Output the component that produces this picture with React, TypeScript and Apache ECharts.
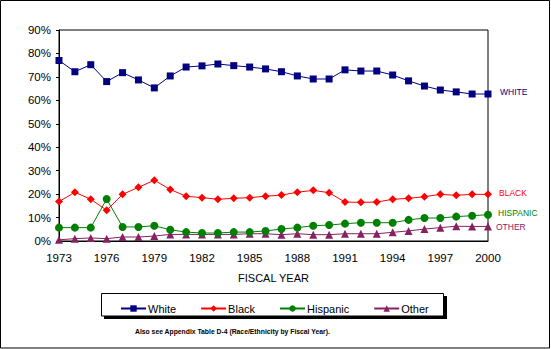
import React, { useEffect, useRef } from "react";
import * as echarts from "echarts";

const years = [
  "1973", "1974", "1975", "1976", "1977", "1978", "1979", "1980", "1981", "1982",
  "1983", "1984", "1985", "1986", "1987", "1988", "1989", "1990", "1991", "1992",
  "1993", "1994", "1995", "1996", "1997", "1998", "1999", "2000",
];
const white = [77, 72.2, 75.2, 68, 71.8, 68.7, 65.3, 70.4, 74.2, 74.7, 75.5, 74.8, 74.2, 73.4, 72.2, 70.4, 69.1, 69.1, 73, 72.5, 72.5, 70.8, 68.3, 66.1, 64.4, 63.6, 62.7, 62.7];
const black = [16.8, 20.8, 17.8, 13.1, 19.9, 22.9, 25.9, 22, 19.1, 18.5, 17.8, 18.2, 18.5, 19.1, 19.6, 20.8, 21.6, 20.6, 16.6, 16.5, 16.6, 17.8, 18.2, 18.9, 19.9, 19.5, 19.9, 19.9];
const hispanic = [5.7, 5.7, 5.7, 17.9, 6, 6, 6.5, 4.8, 3.8, 3.4, 3.4, 3.8, 3.8, 4.3, 5.1, 5.7, 6.5, 6.8, 7.4, 7.8, 7.8, 7.8, 9, 9.8, 9.8, 10.4, 10.8, 11.2];
const other = [0.5, 1, 1.3, 1, 1.7, 1.7, 2.1, 2.8, 2.8, 2.8, 2.8, 2.8, 3.1, 3.1, 2.7, 3.1, 2.7, 2.7, 3.1, 3.1, 3.1, 3.7, 4.3, 5.1, 5.7, 6.3, 6.2, 6.2];

const seriesNames = ["White", "Black", "Hispanic", "Other"];
const endLabels = ["WHITE", "BLACK", "HISPANIC", "OTHER"];
const colors = ["#000080", "#FF0000", "#008000", "#862262"];
const symbols = ["rect", "diamond", "circle", "triangle"];
const yTicks = [0, 10, 20, 30, 40, 50, 60, 70, 80, 90];
const footnote = "Also see Appendix Table D-4 (Race/Ethnicity by Fiscal Year).";

const FONT = "'Liberation Sans', Arial, Helvetica, sans-serif";

export default function App() {
  const ref = useRef<HTMLDivElement>(null);
  useEffect(() => {
    if (!ref.current) return;
    const chart = echarts.init(ref.current, null, { renderer: "svg" });
    const data = [white, black, hispanic, other];
    const labelOffsets = [[12, -2], [11, -1.5], [10, -2], [8, 0.7]];
    const symbolSizes = [7, 8, 8, 8];
    chart.setOption({
      animation: false,
      backgroundColor: "#ffffff",
      textStyle: { fontFamily: FONT },
      grid: {
        left: 59,
        right: 63,
        top: 30,
        bottom: 108,
        show: true,
        borderColor: "#000",
        borderWidth: 1,
        backgroundColor: "transparent",
      },
      xAxis: {
        type: "category",
        data: years,
        boundaryGap: false,
        axisLine: { lineStyle: { color: "#000", width: 1 } },
        axisTick: { show: false },
        axisLabel: {
          interval: 2,
          color: "#000",
          fontSize: 11.5,
          margin: 11,
          fontFamily: FONT,
        },
        splitLine: { show: false },
        name: "FISCAL YEAR",
        nameLocation: "middle",
        nameGap: 31,
        nameTextStyle: { color: "#000", fontSize: 11, fontFamily: FONT },
      },
      yAxis: {
        type: "value",
        min: yTicks[0],
        max: yTicks[yTicks.length - 1],
        interval: 10,
        axisLine: { show: true, lineStyle: { color: "#000", width: 1 } },
        axisTick: { show: true, length: 3, lineStyle: { color: "#000" } },
        axisLabel: {
          formatter: "{value}%",
          color: "#000",
          fontSize: 11.5,
          margin: 8,
          fontFamily: FONT,
        },
        splitLine: { show: false },
      },
      legend: {
        left: 115,
        top: 298,
        itemWidth: 25,
        itemHeight: 8,
        itemGap: 24,
        textStyle: { color: "#000", fontSize: 11, fontFamily: FONT, padding: [0, 0, 0, -3] },
        data: seriesNames,
      },
      series: seriesNames.map((name, i) => ({
        name,
        type: "line",
        data: data[i],
        symbol: symbols[i],
        symbolSize: symbolSizes[i],
        showAllSymbol: true,
        lineStyle: { color: colors[i], width: 1 },
        itemStyle: { color: colors[i] },
        z: 10 - i,
        endLabel: {
          show: true,
          formatter: endLabels[i],
          color: colors[i],
          fontSize: 8.5,
          fontFamily: FONT,
          distance: 0,
          offset: labelOffsets[i],
        },
      })),
      graphic: [
        {
          type: "rect",
          shape: { x: 0.5, y: 0.5, width: 549, height: 347.5 },
          style: { fill: "none", stroke: "#000", lineWidth: 1 },
          z: 100,
        },
        {
          type: "rect",
          shape: { x: 104, y: 296, width: 343, height: 23 },
          style: { fill: "#000" },
          z: -1,
        },
        {
          type: "rect",
          shape: { x: 101.5, y: 293.5, width: 342, height: 22.5 },
          style: { fill: "#fff", stroke: "#000", lineWidth: 1 },
          z: 0,
        },
        {
          type: "text",
          x: 135,
          y: 331,
          style: {
            text: footnote,
            fill: "#000",
            fontSize: 6.8,
            fontWeight: "bold",
            fontFamily: FONT,
            verticalAlign: "middle",
          },
        },
      ],
    });
    return () => chart.dispose();
  }, []);
  return (
    <div
      ref={ref}
      style={{ position: "absolute", left: 0, top: 0, width: 551, height: 349 }}
    />
  );
}
